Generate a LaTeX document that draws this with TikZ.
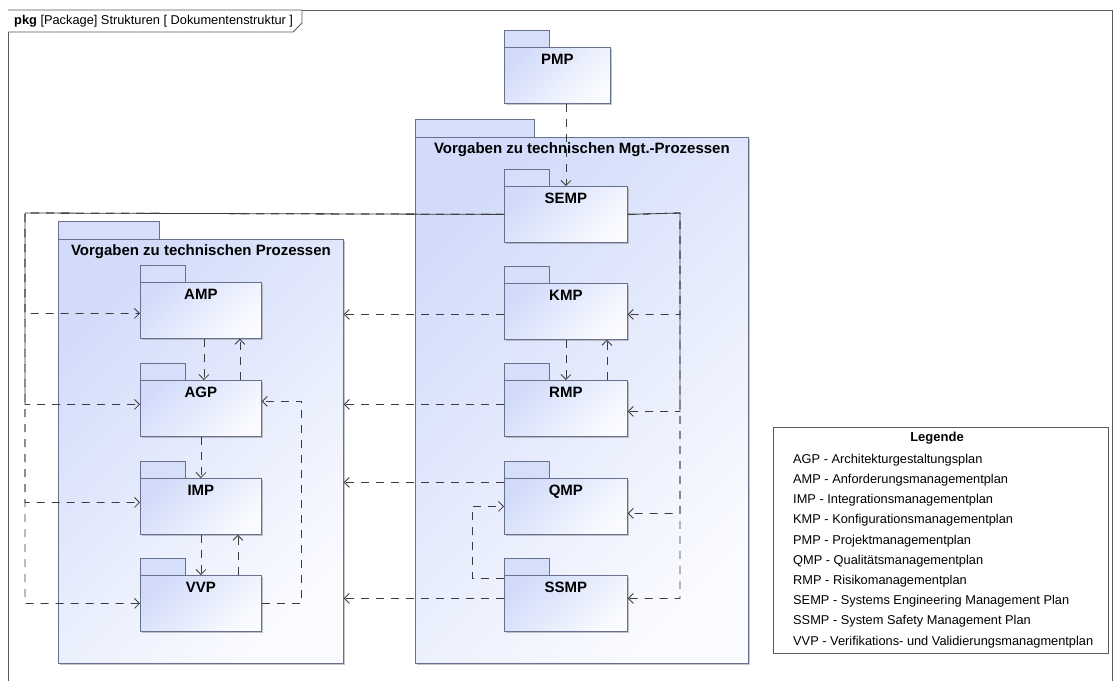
\documentclass[tikz,border=0pt]{standalone}
\usepackage{fontspec}
\setmainfont{Liberation Sans}
\usetikzlibrary{positioning, calc, arrows.meta, shadows}

\definecolor{pkgline}{HTML}{67708C}
\definecolor{pkgdark}{HTML}{D2DCFA}
\definecolor{pkglight}{HTML}{FAFBFF}
\definecolor{tabfill}{HTML}{D6DFFA}
\definecolor{depline}{HTML}{3C3C3C}
\definecolor{frameline}{HTML}{5A5A5A}

\begin{document}
\begin{tikzpicture}[
    x=1pt, y=-1pt,
    pkg/.style={draw=pkgline, line width=.8pt, left color=pkgdark, right color=pkglight, shading angle=45,
      drop shadow={shadow xshift=2pt, shadow yshift=-2pt, fill=black!45, opacity=.5},
      anchor=north west, inner xsep=0pt, inner ysep=6.5pt, minimum width=123pt,
      text height=11pt, text depth=32pt, font=\bfseries\fontsize{15}{18}\selectfont},
    grp/.style={pkg, inner ysep=5.5pt},
    tabbox/.style={draw=pkgline, line width=.8pt, fill=tabfill},
    dep/.style={draw=depline, line width=.8pt, dash pattern=on 8pt off 7pt,
      -{Straight Barb[length=5pt, width=10pt]}},
    legitem/.style={anchor=west, inner sep=0pt, font=\fontsize{12.8}{15}\selectfont}
  ]
  \useasboundingbox (0,0) rectangle (1119,680);
  % frame
  \draw[frameline, line width=.8pt] (8,682) -- (8,10) -- (1112,10) -- (1112,682);
  \draw[frameline, line width=.8pt, fill=white] (8,10) -- (302,10) -- (302,23) -- (293,32) -- (8,32);
  \node[anchor=west, inner sep=0pt, font=\fontsize{12.8}{15}\selectfont] (title) at (14,21.5)
    {\textbf{pkg} [Package] Strukturen [ Dokumentenstruktur ]};

  % containers
  \node[grp, minimum width=285pt, text depth=402pt] (techproc) at (58,239) {Vorgaben zu technischen Prozessen};
  \node[grp, minimum width=333pt, text depth=504pt] (mgtproc) at (415,137) {Vorgaben zu technischen Mgt.-Prozessen};
  \draw[tabbox] (techproc.north west) rectangle ++(101,-18);
  \draw[tabbox] (mgtproc.north west) rectangle ++(119,-18);

  % packages
  \node[pkg, minimum width=106pt] (PMP) at (504,47) {PMP};
  \node[pkg] (SEMP) at (504,186) {SEMP};
  \foreach \n/\y in {AMP/282, AGP/380, IMP/478, VVP/575}
    \node[pkg, minimum width=121pt] (\n) at (140,\y) {\n};
  \foreach \n/\y in {KMP/283, RMP/380, QMP/478, SSMP/575}
    \node[pkg] (\n) at (504,\y) {\n};
  \foreach \n in {PMP, SEMP, AMP, AGP, IMP, VVP, KMP, RMP, QMP, SSMP}
    \draw[tabbox] (\n.north west) rectangle ++(45,-17);

  % dependencies
  \coordinate (lt) at (25,213);
  \coordinate (rt) at (680,213);
  \draw[dep] (PMP.south -| SEMP.north) -- (SEMP.north);
  \draw[dep] (SEMP.west) -- (lt) |- ([yshift=-3pt]AMP.west);
  \draw[dep, dash phase=7.5pt] (SEMP.west) -- (lt) |- ([yshift=4pt]AGP.west);
  \draw[dep] (SEMP.west) -- (lt) |- ([yshift=4pt]IMP.west);
  \draw[dep] (SEMP.west) -- (lt) |- (VVP.west);
  \draw[dep] (SEMP.east) -- (rt) |- ([yshift=-3pt]KMP.east);
  \draw[dep, dash phase=7.5pt] (SEMP.east) -- (rt) |- ([yshift=-3pt]RMP.east);
  \draw[dep] (SEMP.east) -- (rt) |- ([yshift=-7pt]QMP.east);
  \draw[dep] (SEMP.east) -- (rt) |- ([yshift=5pt]SSMP.east);

  \draw[dep] ([xshift=3pt]AMP.south) -- ([xshift=3pt]AMP.south |- AGP.north);
  \draw[dep] ([xshift=39pt]AGP.north) -- ([xshift=39pt]AGP.north |- AMP.south);
  \draw[dep] (AGP.south) -- (IMP.north);
  \draw[dep] (IMP.south) -- (VVP.north);
  \draw[dep] ([xshift=37pt]VVP.north) -- ([xshift=37pt]VVP.north |- IMP.south);
  \draw[dep] (VVP.east) -- ++(40,0) |- ([yshift=7pt]AGP.east);
  \draw[dep] (KMP.south) -- (RMP.north);
  \draw[dep] ([xshift=41pt]RMP.north) -- ([xshift=41pt]RMP.north |- KMP.south);

  \draw[dep] ([yshift=-3pt]KMP.west) -- ([yshift=-3pt]KMP.west -| techproc.east);
  \draw[dep] ([yshift=4pt]RMP.west) -- ([yshift=4pt]RMP.west -| techproc.east);
  \draw[dep] ([yshift=24pt]QMP.west) -- ([yshift=24pt]QMP.west -| techproc.east);
  \draw[dep] ([yshift=5pt]SSMP.west) -- ([yshift=5pt]SSMP.west -| techproc.east);
  \draw[dep] ([yshift=25pt]SSMP.west) -- ++(-32,0) |- (QMP.west);

  % legend
  \node[draw=frameline, line width=.8pt, fill=white, anchor=north west, minimum width=335pt,
    minimum height=226pt, inner sep=0pt] (legend) at (773,427) {};
  \node[inner sep=0pt, font=\bfseries\fontsize{13}{15}\selectfont] (legtitle) at (937,438) {Legende};
  \foreach \t [count=\i] in {AGP - Architekturgestaltungsplan, AMP - Anforderungsmanagementplan,
      IMP - Integrationsmanagementplan, KMP - Konfigurationsmanagementplan,
      PMP - Projektmanagementplan, QMP - Qualitätsmanagementplan, RMP - Risikomanagementplan,
      SEMP - Systems Engineering Management Plan, SSMP - System Safety Management Plan,
      VVP - Verifikations- und Validierungsmanagmentplan}
    \node[legitem] (leg\i) at (793, {439.8+20.2*\i}) {\t};
\end{tikzpicture}
\end{document}
